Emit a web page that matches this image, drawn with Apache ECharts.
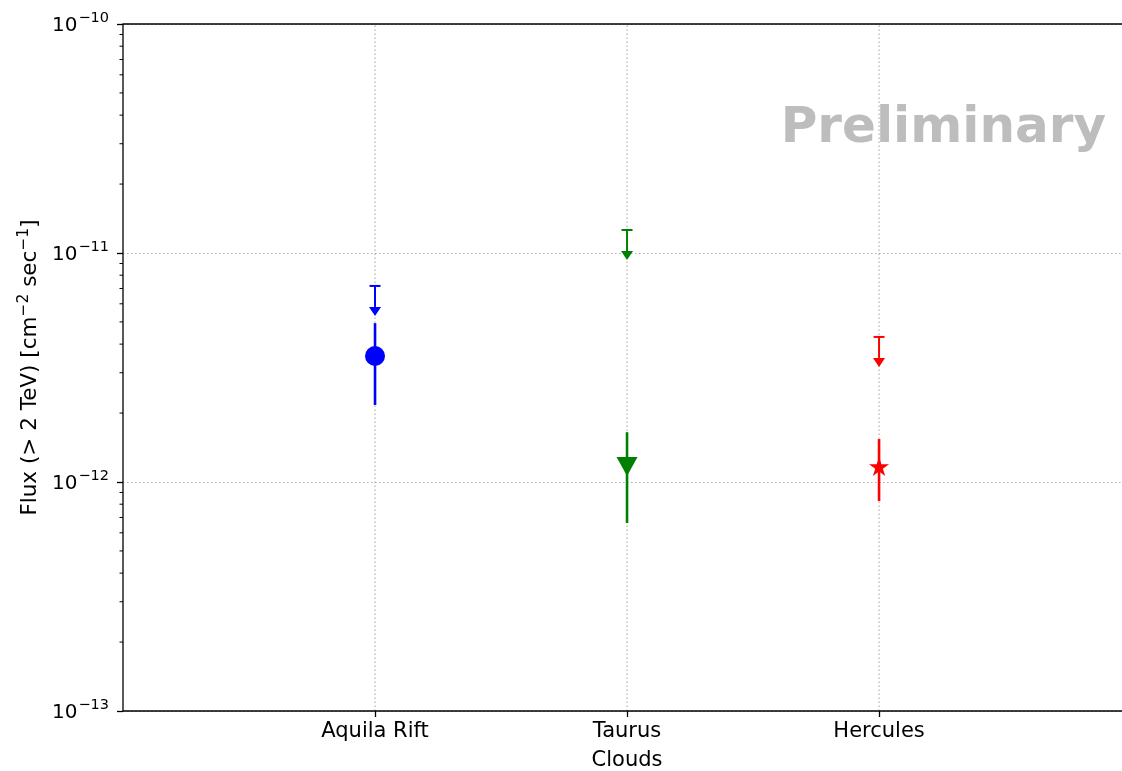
<!DOCTYPE html>
<html>
<head>
<meta charset="utf-8">
<script src="https://cdn.jsdelivr.net/npm/echarts@6/dist/echarts.min.js"></script>
<style>
  html, body { margin: 0; padding: 0; background: #fff; overflow: hidden; }
  #chart { width: 1122px; height: 771px; }
</style>
</head>
<body>
<div id="chart"></div>
<script>
// clouds on the x axis, positions 0,1,2
const clouds = ['Aquila Rift', 'Taurus', 'Hercules'];
const colors = ['#0000ff', '#008000', '#ff0000'];
// flux (> 2 TeV), cm^-2 sec^-1
const flux = [3.55e-12, 1.17e-12, 1.17e-12];
const fluxLow = [2.17e-12, 6.62e-13, 8.26e-13];
const fluxHigh = [4.94e-12, 1.65e-12, 1.54e-12];
const upperLimits = [7.18e-12, 1.26e-11, 4.30e-12];
// minor log ticks on the y axis
const minorTicks = [
  2e-13, 3e-13, 4e-13, 5e-13, 6e-13, 7e-13, 8e-13, 9e-13,
  2e-12, 3e-12, 4e-12, 5e-12, 6e-12, 7e-12, 8e-12, 9e-12,
  2e-11, 3e-11, 4e-11, 5e-11, 6e-11, 7e-11, 8e-11, 9e-11
];
// visible x range (the plot is cut just before its right spine)
const xRange = [-1, 2.964];
const yRange = [1e-13, 1e-10];

const starPath = 'path://M50,0L61.23,34.55L97.55,34.55L68.17,55.9L79.39,90.45L50,69.1L20.61,90.45L31.83,55.9L2.45,34.55L38.77,34.55Z';
const markers = [
  { symbol: 'circle', symbolSize: 20, symbolRotate: 0 },
  { symbol: 'triangle', symbolSize: [21, 19], symbolRotate: 180 },
  { symbol: starPath, symbolSize: [20, 19], symbolRotate: 0 }
];

const font = 'DejaVu Sans';
const gridLine = { stroke: '#b0b0b0', lineWidth: 1.2, lineDash: [1.5, 2.5] };

const option = {
  animation: false,
  backgroundColor: '#fff',
  textStyle: { fontFamily: font },
  grid: {
    left: 123, top: 24, bottom: 60, right: 0,
    outerBoundsMode: 'none', containLabel: false,
    show: false
  },
  graphic: [{
    type: 'text', x: 1106, y: 129, z: 20,
    style: {
      text: 'Preliminary', align: 'right', verticalAlign: 'middle',
      font: 'bold 50px "DejaVu Sans"', fill: '#bdbdbd'
    }
  }],
  xAxis: {
    type: 'value', min: xRange[0], max: xRange[1], interval: 1,
    name: 'Clouds', nameLocation: 'middle', nameGap: 39,
    nameTextStyle: { fontSize: 21, color: '#000', fontFamily: font, padding: [0, 0, 0, 9] },
    axisLine: { show: false, onZero: false },
    axisTick: { show: true, inside: false, length: 6, customValues: [0, 1, 2], lineStyle: { color: '#000', width: 1.3 } },
    axisLabel: {
      customValues: [0, 1, 2], margin: 10, fontSize: 21, color: '#000', fontFamily: font,
      formatter: v => clouds[v] || ''
    },
    splitLine: { show: false }
  },
  yAxis: {
    type: 'log', logBase: 10, min: yRange[0], max: yRange[1],
    name: '{t|Flux (> 2 TeV) [cm}{s|−2}{t| sec}{s|−1}{t|]}',
    nameLocation: 'middle', nameRotate: 90, nameGap: 78,
    nameTextStyle: {
      rich: {
        t: { fontSize: 21.5, color: '#000', fontFamily: font, verticalAlign: 'bottom', lineHeight: 26 },
        s: { fontSize: 15.5, color: '#000', fontFamily: font, verticalAlign: 'bottom', lineHeight: 26, padding: [0, 0, 9, 0] }
      }
    },
    axisLine: { show: false, onZero: false },
    axisTick: { show: true, inside: false, length: 6, lineStyle: { color: '#000', width: 1.3 } },
    axisLabel: {
      margin: 14,
      formatter: v => '{b|10}{s|−' + Math.round(-Math.log10(v)) + '}',
      rich: {
        b: { fontSize: 20, color: '#000', fontFamily: font, verticalAlign: 'bottom', lineHeight: 24 },
        s: { fontSize: 14.5, color: '#000', fontFamily: font, verticalAlign: 'bottom', lineHeight: 24, padding: [0, 0, 10, 1] }
      }
    },
    splitLine: { show: true, lineStyle: { color: '#b0b0b0', type: [1.5, 2.5], width: 1.2 } }
  },
  series: [
    {
      // vertical grid lines at each cloud
      type: 'custom', silent: true, z: 1,
      data: clouds.map((c, i) => [i, yRange[0], yRange[1]]),
      renderItem: (params, api) => {
        const lo = api.coord([api.value(0), api.value(1)]);
        const hi = api.coord([api.value(0), api.value(2)]);
        return {
          type: 'line',
          shape: { x1: lo[0], y1: lo[1], x2: hi[0], y2: hi[1] },
          style: gridLine
        };
      }
    },
    {
      // axes frame: left, bottom and top spines
      type: 'custom', clip: false, silent: true, z: 8,
      data: [[xRange[0], yRange[0], xRange[1], yRange[1]]],
      renderItem: (params, api) => {
        const a = api.coord([api.value(0), api.value(1)]);
        const b = api.coord([api.value(2), api.value(3)]);
        return {
          type: 'polyline',
          shape: { points: [[b[0] + 2, a[1]], [a[0], a[1]], [a[0], b[1]], [b[0] + 2, b[1]]] },
          style: { fill: 'none', stroke: '#000', lineWidth: 1.3 }
        };
      }
    },
    {
      // minor ticks on the log axis
      type: 'custom', clip: false, silent: true,
      data: minorTicks.map(v => [xRange[0], v]),
      renderItem: (params, api) => {
        const p = api.coord([api.value(0), api.value(1)]);
        return {
          type: 'line',
          shape: { x1: p[0] - 3.5, y1: p[1], x2: p[0], y2: p[1] },
          style: { stroke: '#000', lineWidth: 1 }
        };
      }
    },
    {
      // error bars
      type: 'custom', silent: true,
      data: clouds.map((c, i) => [i, fluxLow[i], fluxHigh[i]]),
      renderItem: (params, api) => {
        const lo = api.coord([api.value(0), api.value(1)]);
        const hi = api.coord([api.value(0), api.value(2)]);
        return {
          type: 'line',
          shape: { x1: lo[0], y1: lo[1], x2: hi[0], y2: hi[1] },
          style: { stroke: colors[params.dataIndex], lineWidth: 2.6 }
        };
      }
    },
    {
      // upper limits: cap + downward arrow
      type: 'custom', silent: true,
      data: clouds.map((c, i) => [i, upperLimits[i]]),
      renderItem: (params, api) => {
        const p = api.coord([api.value(0), api.value(1)]);
        const col = colors[params.dataIndex];
        const len = 30, hw = 6, hh = 9;
        return {
          type: 'group',
          children: [
            { type: 'line', shape: { x1: p[0] - 5.5, y1: p[1], x2: p[0] + 5.5, y2: p[1] }, style: { stroke: col, lineWidth: 2 } },
            { type: 'line', shape: { x1: p[0], y1: p[1], x2: p[0], y2: p[1] + len - hh }, style: { stroke: col, lineWidth: 2 } },
            { type: 'polygon', shape: { points: [[p[0] - hw, p[1] + len - hh], [p[0] + hw, p[1] + len - hh], [p[0], p[1] + len]] }, style: { fill: col } }
          ]
        };
      }
    },
    {
      type: 'scatter', silent: true,
      data: clouds.map((c, i) => ({
        value: [i, flux[i]],
        symbol: markers[i].symbol,
        symbolSize: markers[i].symbolSize,
        symbolRotate: markers[i].symbolRotate,
        itemStyle: { color: colors[i], opacity: 1 }
      })),
      z: 5
    }
  ]
};

const chart = echarts.init(document.getElementById('chart'), null, { renderer: 'canvas' });
chart.setOption(option);
</script>
</body>
</html>
